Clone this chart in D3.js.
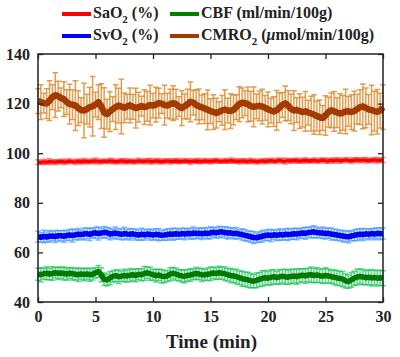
<!DOCTYPE html>
<html>
<head>
<meta charset="utf-8">
<script src="https://cdn.jsdelivr.net/npm/d3@7"></script>
<style>
  body { margin: 0; background: #fff; }
  svg text { font-family: "Liberation Serif", "Times New Roman", serif; font-weight: bold; }
</style>
</head>
<body>
<script>
// time axis (min), one sample every 15 s
const time = d3.range(0, 30.001, 0.25);

// SaO2 (%)
const sao2 = [
  96.4,96.3,96.5,96.4,96.6,96.5,96.4,96.6,
  96.7,96.5,96.6,96.8,96.6,96.5,96.7,96.6,
  96.8,96.7,96.6,96.8,96.9,96.7,96.6,96.8,
  96.7,96.9,96.8,96.6,96.7,96.9,96.8,96.7,
  96.8,96.6,96.7,96.9,96.8,96.7,96.9,96.8,
  96.7,96.9,96.8,96.6,96.8,96.9,96.7,96.8,
  96.9,96.8,96.7,96.9,96.8,96.6,96.8,96.9,
  96.8,96.7,96.9,96.8,96.7,96.9,97.0,96.8,
  96.7,96.9,96.8,97.0,96.9,96.8,96.7,96.9,
  96.8,96.7,96.9,96.8,96.6,96.7,96.9,96.8,
  96.9,97.0,96.8,96.9,97.1,96.9,96.8,97.0,
  96.9,97.1,97.0,96.8,97.0,97.1,96.9,97.0,
  97.1,96.9,97.0,97.2,97.0,96.9,97.1,97.0,
  97.2,97.0,97.1,97.3,97.1,97.0,97.2,97.3,
  97.1,97.3,97.2,97.0,97.2,97.3,97.1,97.2,
  97.3];
const sao2Err = [
  1.0,0.8,1.1,0.9,1.2,0.8,1.0,0.9,
  0.8,1.1,0.9,1.0,0.7,1.1,0.9,1.0,
  1.1,0.9,0.8,1.0,1.2,0.9,1.0,0.8,
  0.9,1.0,1.1,0.8,1.0,0.9,1.1,1.0,
  0.8,1.0,0.9,1.1,0.8,1.0,0.9,1.2,
  1.0,0.8,1.1,0.9,1.0,0.8,1.1,0.9,
  0.9,1.1,0.8,1.0,0.9,1.2,0.8,1.0,
  1.1,0.9,1.0,0.8,1.1,0.9,1.0,0.9,
  0.8,1.0,0.9,1.1,1.0,0.8,1.1,0.9,
  1.0,0.9,1.1,0.8,1.0,0.9,0.8,1.1,
  0.9,1.0,0.8,1.1,0.9,1.0,1.2,0.9,
  1.0,0.8,1.1,0.9,1.0,1.1,0.9,0.8,
  1.1,0.9,1.0,0.8,1.1,1.0,0.9,1.1,
  0.9,1.1,0.8,1.0,0.9,1.1,1.0,0.9,
  1.0,0.9,1.1,1.0,0.8,1.0,1.1,0.9,
  1.0];

// SvO2 (%)
const svo2 = [
  66.3,66.1,66.4,66.2,66.5,66.6,66.4,66.7,
  66.7,66.5,66.8,67.0,66.8,67.1,67.3,67.2,
  67.4,67.6,67.3,67.7,67.9,67.6,67.8,68.1,
  67.9,67.4,67.6,67.8,67.5,67.3,67.6,67.4,
  67.3,67.5,67.2,67.0,67.3,67.1,67.4,67.2,
  67.0,67.3,67.1,66.9,67.0,67.2,67.4,67.3,
  67.5,67.3,67.6,67.4,67.7,67.5,67.8,67.6,
  67.7,67.5,67.8,67.6,67.9,68.1,67.9,68.2,
  68.3,68.0,67.8,67.9,67.6,67.7,67.4,67.2,
  66.9,66.6,66.3,66.0,65.9,66.2,66.5,66.8,
  67.0,66.8,67.1,66.9,67.2,67.0,67.3,67.2,
  67.3,67.5,67.4,67.6,67.8,67.7,68.0,68.1,
  68.3,68.0,67.8,67.9,67.6,67.7,67.4,67.2,
  67.0,66.8,66.6,66.4,66.3,66.6,66.9,67.1,
  67.3,67.2,67.5,67.3,67.6,67.4,67.7,67.5,
  67.6];
const svo2Err = [
  2.2,1.8,2.5,2.0,2.3,1.9,2.4,2.1,
  2.0,2.4,1.9,2.2,2.6,2.0,2.3,1.8,
  2.4,2.1,2.5,1.9,2.2,2.6,2.0,2.3,
  2.1,2.3,1.8,2.4,2.0,2.2,2.5,1.9,
  2.3,1.9,2.2,2.0,2.4,2.1,1.8,2.2,
  2.0,2.2,2.4,1.9,2.1,2.3,2.0,2.4,
  2.2,1.9,2.1,2.3,1.8,2.2,2.4,2.0,
  2.1,2.3,2.0,2.2,2.4,1.9,2.1,2.3,
  1.9,2.2,2.4,2.0,2.1,2.3,1.8,2.2,
  2.3,2.0,2.2,2.4,1.9,2.1,2.3,2.0,
  2.2,2.4,1.9,2.1,2.3,2.0,2.2,2.4,
  2.0,2.2,2.3,1.9,2.1,2.4,2.0,2.2,
  2.4,2.1,1.9,2.3,2.2,2.0,2.4,2.1,
  2.2,2.0,2.3,2.1,2.4,1.9,2.2,2.3,
  2.1,2.4,2.0,2.2,1.9,2.3,2.1,2.4,
  2.2];

// CBF (ml/min/100g)
const cbf = [
  51.2,51.0,51.4,51.6,51.3,51.5,51.8,51.6,
  51.7,51.5,51.3,51.6,51.4,51.2,51.0,51.3,
  51.1,51.3,51.0,51.2,51.8,52.3,51.0,49.2,
  48.9,49.6,50.3,50.6,50.2,50.4,50.7,50.5,
  50.8,51.0,50.7,51.2,51.0,51.5,51.8,51.4,
  51.0,50.6,50.9,50.4,50.3,50.5,51.2,51.6,
  51.2,50.8,50.5,50.4,50.7,50.9,51.2,51.5,
  51.3,50.9,51.0,51.2,51.4,51.7,51.5,51.8,
  51.6,51.4,51.0,50.7,50.5,50.3,49.8,49.4,
  49.2,48.9,48.6,48.4,48.7,49.1,49.5,49.8,
  49.6,49.9,50.2,49.8,50.1,50.4,50.2,50.0,
  50.3,50.5,50.2,50.6,50.8,50.5,50.9,51.0,
  50.7,50.9,50.6,50.4,50.7,50.5,50.2,50.0,
  49.7,49.5,49.2,48.5,48.2,48.9,49.6,50.1,
  50.3,50.1,49.8,50.0,49.7,49.9,49.6,49.8,
  49.6];
const cbfErr = [
  2.4,2.8,2.2,2.6,2.3,2.7,2.1,2.5,
  2.2,2.6,2.4,2.1,2.5,2.3,2.7,2.2,
  2.5,2.2,2.6,2.3,2.1,2.4,2.8,2.5,
  2.3,2.6,2.2,2.4,2.7,2.1,2.5,2.3,
  2.6,2.3,2.5,2.2,2.4,2.8,2.3,2.6,
  2.2,2.5,2.3,2.7,2.4,2.2,2.6,2.3,
  2.5,2.2,2.4,2.6,2.3,2.5,2.1,2.4,
  2.3,2.6,2.2,2.5,2.7,2.3,2.4,2.6,
  2.4,2.7,2.5,2.8,2.6,2.9,2.7,3.0,
  2.8,3.1,2.9,2.7,3.0,2.8,3.1,2.9,
  2.7,3.0,2.8,2.6,2.9,2.7,3.0,2.8,
  2.9,2.7,3.0,2.8,2.6,2.9,2.7,3.1,
  2.8,3.0,2.7,2.9,3.1,2.8,2.6,2.9,
  3.0,2.8,3.1,2.9,2.7,3.0,2.8,3.2,
  2.9,3.1,2.8,3.0,3.2,2.9,3.1,3.0,
  3.0];

// CMRO2 (umol/min/100g)
const cmro2 = [
  121.0,120.6,120.2,120.0,121.2,122.6,123.4,123.0,
  122.3,121.8,120.6,119.8,119.6,119.2,118.2,117.4,
  117.2,117.8,118.6,118.9,119.6,120.6,119.0,116.4,
  115.8,116.8,117.8,118.6,119.2,118.8,118.3,118.8,
  119.3,118.7,118.2,118.6,119.0,118.6,118.9,119.4,
  119.2,119.6,120.2,120.0,119.4,119.2,119.8,120.2,
  119.8,118.8,118.2,118.9,119.8,120.7,120.4,119.5,
  118.9,118.5,118.0,117.5,117.0,116.6,116.2,116.7,
  117.3,117.6,117.2,117.0,117.5,118.6,119.8,120.3,
  120.2,119.7,119.0,118.7,118.9,119.1,118.8,118.3,
  117.7,117.2,116.8,117.3,118.4,119.5,120.1,119.2,
  117.9,117.2,117.4,117.0,116.6,116.9,116.4,116.0,
  115.6,115.0,114.5,114.2,115.2,116.6,117.3,116.9,
  116.4,116.0,116.3,116.8,116.9,116.6,117.0,117.8,
  118.6,118.9,118.3,117.7,117.4,117.0,116.7,117.2,
  118.6];
const cmro2Err = [
  5,7,4,6,8,5,9,6,
  4,7,5,8,6,10,7,5,
  11,6,8,12,5,7,9,10,
  6,8,5,9,7,11,6,5,
  7,5,8,6,4,7,6,8,
  5,7,6,4,8,5,6,7,
  6,4,7,5,6,8,5,6,
  7,5,6,8,5,7,6,4,
  6,8,5,7,6,5,7,6,
  5,7,6,8,5,6,7,5,
  7,5,6,8,6,5,7,6,
  6,8,5,7,6,8,5,7,
  8,6,7,5,8,6,7,8,
  6,8,7,9,6,7,8,6,
  7,9,8,6,10,8,9,7,
  9];

const xTicks = [0, 5, 10, 15, 20, 25, 30];
const yTicks = [40, 60, 80, 100, 120, 140];

const W = 400, H = 357;
const margin = {top: 54, right: 17, bottom: 55, left: 38};
const width = W - margin.left - margin.right;
const height = H - margin.top - margin.bottom;

const series = [
  {name: "SaO2", mean: sao2, err: sao2Err, line: "#ff0000", bar: "#ff3b3b", lw: 3.5, bw: 1.5, op: 0.6},
  {name: "SvO2", mean: svo2, err: svo2Err, line: "#0000f0", bar: "#2e8fff", lw: 5.5, bw: 1.5, op: 0.65},
  {name: "CBF", mean: cbf, err: cbfErr, line: "#007a00", bar: "#00c046", lw: 5.5, bw: 1.5, op: 0.65},
  {name: "CMRO2", mean: cmro2, err: cmro2Err, line: "#a33a00", bar: "#d97c14", lw: 6.5, bw: 1.5, op: 0.75}
];

const svg = d3.select("body").append("svg")
  .attr("width", W)
  .attr("height", H);

const g = svg.append("g")
  .attr("transform", "translate(" + margin.left + "," + margin.top + ")");

const x = d3.scaleLinear().domain([0, 30]).range([0, width]);
const y = d3.scaleLinear().domain([40, 140]).range([height, 0]);

// error bars and mean lines
const capW = 2.8;
series.forEach(s => {
  const eb = g.append("g")
    .attr("stroke", s.bar)
    .attr("stroke-width", s.bw)
    .attr("stroke-opacity", s.op)
    .attr("fill", "none");
  const pts = time.map((t, i) => ({t: t, m: s.mean[i], e: s.err[i]}));
  eb.selectAll("path")
    .data(pts)
    .join("path")
    .attr("d", d => {
      const cx = x(d.t), y0 = y(d.m - d.e), y1 = y(d.m + d.e);
      return "M" + cx + "," + y0 + "V" + y1 +
        "M" + (cx - capW) + "," + y0 + "H" + (cx + capW) +
        "M" + (cx - capW) + "," + y1 + "H" + (cx + capW);
    });

  g.append("path")
    .datum(pts)
    .attr("fill", "none")
    .attr("stroke", s.line)
    .attr("stroke-width", s.lw)
    .attr("stroke-linejoin", "round")
    .attr("d", d3.line().x(d => x(d.t)).y(d => y(d.m)));
});

// axes with inward ticks on all four sides
const tickLen = 5;
function styleAxis(sel) {
  sel.select(".domain").remove();
  sel.selectAll("line").attr("stroke", "#222").attr("stroke-width", 1.3);
  sel.selectAll("text")
    .attr("font-family", "Liberation Serif, serif")
    .attr("font-weight", "bold")
    .attr("font-size", 16)
    .attr("fill", "#222");
}

g.append("g")
  .attr("transform", "translate(0," + height + ")")
  .call(d3.axisBottom(x).tickValues(xTicks).tickSize(-tickLen).tickPadding(9))
  .call(styleAxis);
g.append("g")
  .call(d3.axisTop(x).tickValues(xTicks).tickSize(-tickLen).tickFormat(""))
  .call(styleAxis);
g.append("g")
  .call(d3.axisLeft(y).tickValues(yTicks).tickSize(-tickLen).tickPadding(8))
  .call(styleAxis);
g.append("g")
  .attr("transform", "translate(" + width + ",0)")
  .call(d3.axisRight(y).tickValues(yTicks).tickSize(-tickLen).tickFormat(""))
  .call(styleAxis);

g.append("rect")
  .attr("width", width)
  .attr("height", height)
  .attr("fill", "none")
  .attr("stroke", "#222")
  .attr("stroke-width", 1.5);

// x axis title
g.append("text")
  .attr("x", width / 2 + 1)
  .attr("y", height + 46)
  .attr("text-anchor", "middle")
  .attr("font-size", 19)
  .attr("fill", "#222")
  .text("Time (min)");

// legend
const legend = [
  {pre: "SaO", sub: "2", post: " (%)", color: "#ff0000", lx: 62, ly: 14},
  {pre: "SvO", sub: "2", post: " (%)", color: "#0000ff", lx: 62, ly: 36},
  {pre: "CBF (ml/min/100g)", sub: "", post: "", color: "#008000", lx: 170, ly: 14},
  {pre: "CMRO", sub: "2", post: " (", mu: "\u03bc", rest: "mol/min/100g)", color: "#a33a00", lx: 170, ly: 36}
];
const lg = svg.append("g");
legend.forEach(l => {
  lg.append("line")
    .attr("x1", l.lx).attr("x2", l.lx + 29)
    .attr("y1", l.ly).attr("y2", l.ly)
    .attr("stroke", l.color)
    .attr("stroke-width", 4);
  const t = lg.append("text")
    .attr("x", l.lx + 31)
    .attr("y", l.ly + 4)
    .attr("font-size", 16)
    .attr("fill", "#222");
  t.append("tspan").text(l.pre);
  if (l.sub) {
    t.append("tspan").attr("dy", 5).attr("font-size", 11).text(l.sub);
    t.append("tspan").attr("dy", -5).text(l.post);
  }
  if (l.mu) {
    t.append("tspan").attr("font-style", "italic").text(l.mu);
    t.append("tspan").text(l.rest);
  }
});
</script>
</body>
</html>
